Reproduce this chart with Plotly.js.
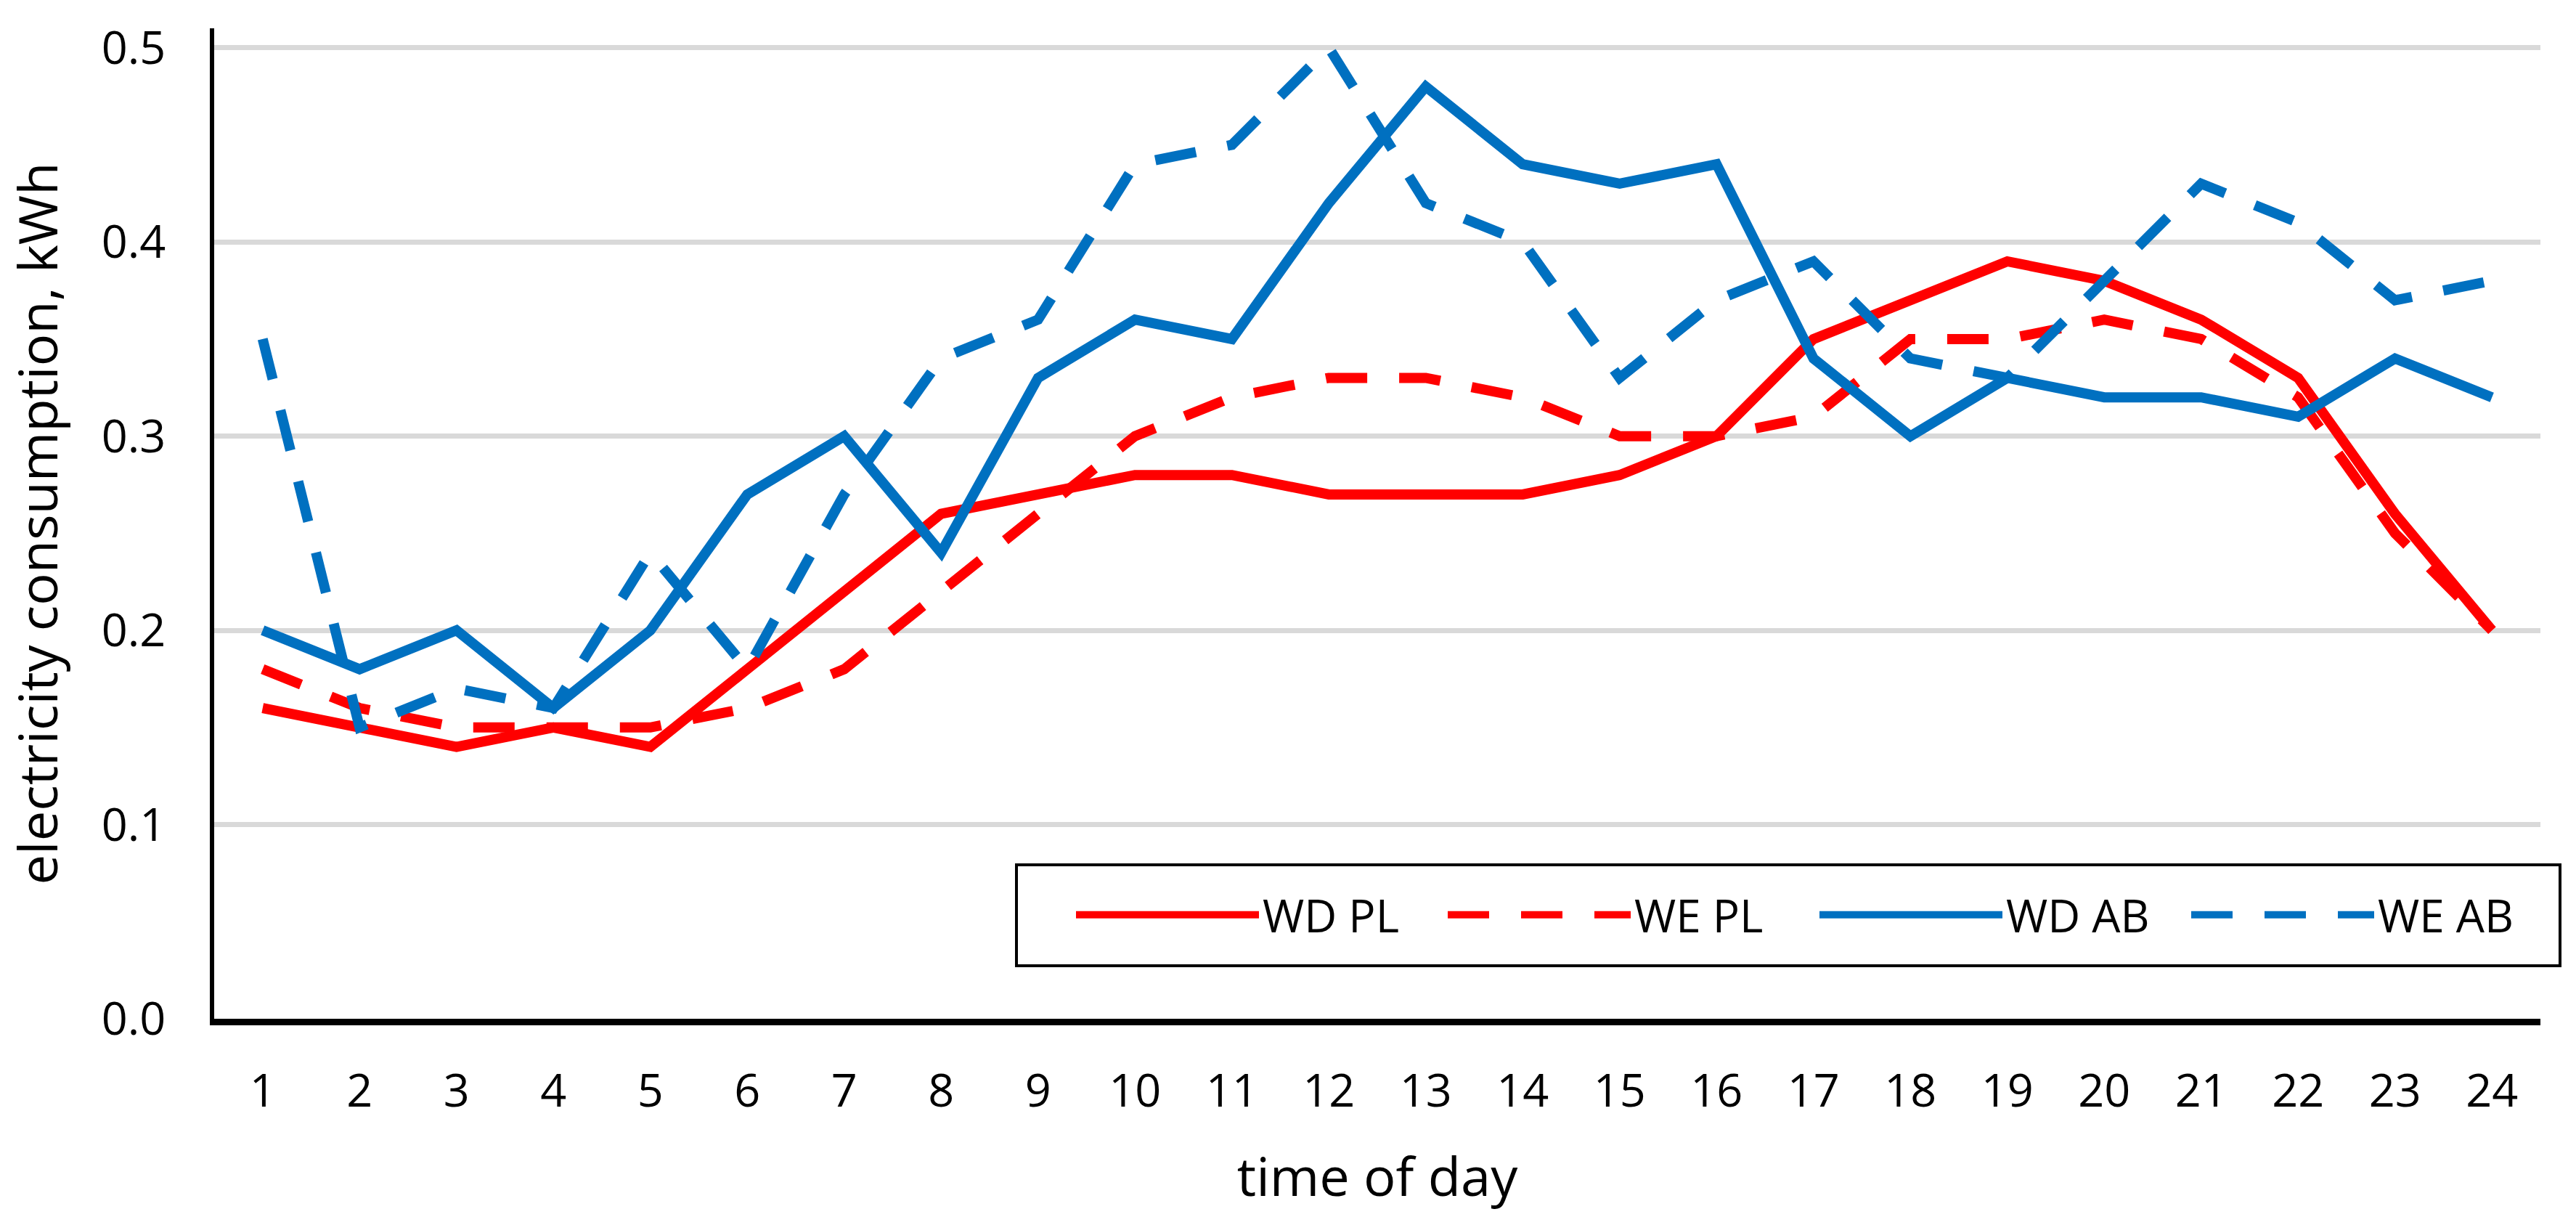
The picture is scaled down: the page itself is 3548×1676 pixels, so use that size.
<!DOCTYPE html>
<html>
<head>
<meta charset="utf-8">
<script src="https://cdn.plot.ly/plotly-3.0.1.min.js"></script>
<style>html,body{margin:0;padding:0;background:#fff;}#chart{width:3548px;height:1676px;}</style>
</head>
<body>
<div id="chart"></div>
<script>
const hours = [1,2,3,4,5,6,7,8,9,10,11,12,13,14,15,16,17,18,19,20,21,22,23,24];
const wdPL = [0.16,0.15,0.14,0.15,0.14,0.18,0.22,0.26,0.27,0.28,0.28,0.27,0.27,0.27,0.28,0.30,0.35,0.37,0.39,0.38,0.36,0.33,0.26,0.20];
const wePL = [0.18,0.16,0.15,0.15,0.15,0.16,0.18,0.22,0.26,0.30,0.32,0.33,0.33,0.32,0.30,0.30,0.31,0.35,0.35,0.36,0.35,0.32,0.25,0.20];
const wdAB = [0.20,0.18,0.20,0.16,0.20,0.27,0.30,0.24,0.33,0.36,0.35,0.42,0.48,0.44,0.43,0.44,0.34,0.30,0.33,0.32,0.32,0.31,0.34,0.32];
const weAB = [0.35,0.15,0.17,0.16,0.24,0.18,0.27,0.34,0.36,0.44,0.45,0.50,0.42,0.40,0.33,0.37,0.39,0.34,0.33,0.38,0.43,0.41,0.37,0.38];
const seriesNames = ['WD PL','WE PL','WD AB','WE AB'];
const yTicks = [0,0.1,0.2,0.3,0.4,0.5];

const RED = '#FF0000', BLUE = '#0070C0';
const DASH = '57px,44px';
const LW = 14;

const traces = [
  {x: hours, y: wdPL, name: seriesNames[0], mode: 'lines', line: {color: RED, width: LW}},
  {x: hours, y: wePL, name: seriesNames[1], mode: 'lines', line: {color: RED, width: LW, dash: DASH}},
  {x: hours, y: wdAB, name: seriesNames[2], mode: 'lines', line: {color: BLUE, width: LW}},
  {x: hours, y: weAB, name: seriesNames[3], mode: 'lines', line: {color: BLUE, width: LW, dash: DASH}}
];

const FONT = 'Open Sans, Noto Sans, sans-serif';

const layout = {
  width: 3548, height: 1676,
  margin: {l: 295, r: 49, t: 39, b: 273, pad: 0},
  paper_bgcolor: '#ffffff', plot_bgcolor: '#ffffff',
  font: {family: FONT, color: '#000000', size: 63},
  showlegend: true,
  xaxis: {
    range: [0.5, 24.5], tickmode: 'array', tickvals: hours, ticktext: hours.map(String),
    showgrid: false, zeroline: false, showline: true, linecolor: '#000000', linewidth: 9,
    ticks: '', ticklabelstandoff: 36, tickfont: {family: FONT, size: 63, color: '#000'},
    automargin: false,
    title: {text: 'time of day', font: {family: FONT, size: 74, color: '#000'}, standoff: 58}
  },
  yaxis: {
    range: [0, 0.51], tickmode: 'array', tickvals: yTicks, ticktext: yTicks.map(v => v.toFixed(1)),
    showgrid: true, gridcolor: '#D9D9D9', gridwidth: 7, zeroline: false,
    showline: true, linecolor: '#000000', linewidth: 6,
    ticks: '', ticklabelstandoff: 48, tickfont: {family: FONT, size: 63, color: '#000'},
    automargin: false,
    title: {text: 'electricity consumption, kWh', font: {family: FONT, size: 74, color: '#000'}, standoff: 63}
  },
  legend: {
    orientation: 'h', x: (1477 - 295) / 3204, xanchor: 'left', y: (1403 - 1260) / 1364, yanchor: 'middle',
    font: {family: FONT, size: 62, color: '#000'}, bgcolor: 'rgba(0,0,0,0)', borderwidth: 0,
    itemwidth: 252, entrywidth: 245, entrywidthmode: 'pixels', traceorder: 'normal'
  },
  shapes: [
    {type: 'rect', xref: 'paper', yref: 'paper', x0: (1400 - 295) / 3204, x1: (3526 - 295) / 3204,
     y0: (1403 - 1330) / 1364, y1: (1403 - 1191) / 1364,
     line: {color: '#000000', width: 4}, fillcolor: 'rgba(255,255,255,1)', layer: 'below'}
  ]
};

Plotly.newPlot('chart', traces, layout, {displayModeBar: false, staticPlot: true});
</script>
</body>
</html>
